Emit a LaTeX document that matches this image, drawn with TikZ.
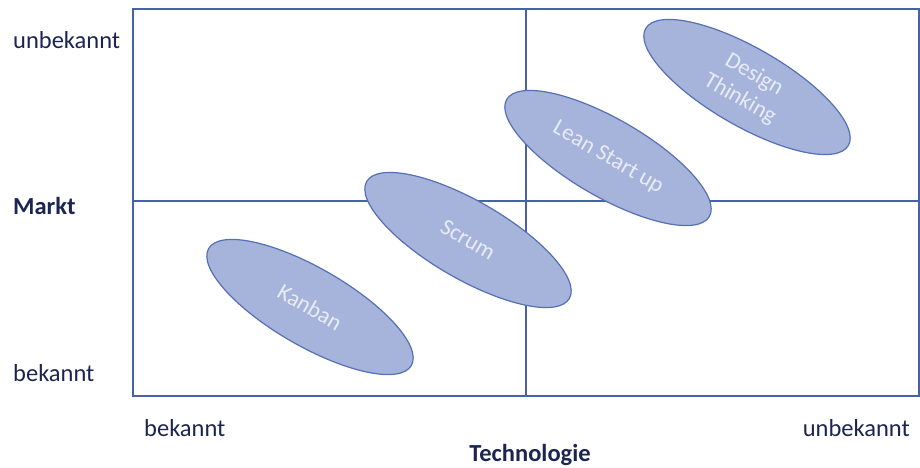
\documentclass[tikz,border=0pt]{standalone}
\usepackage{fontspec}
\setmainfont{Carlito}
\usetikzlibrary{shapes.geometric}
\definecolor{navy}{HTML}{1B2552}
\definecolor{gridblue}{HTML}{4762A6}
\definecolor{ellfill}{HTML}{A6B3DA}
\definecolor{elledge}{HTML}{5570B5}
\definecolor{elltext}{HTML}{E8ECF6}
\tikzset{
  axislabel/.style={text=navy, font=\fontsize{24.5}{28}\selectfont, inner sep=0pt},
  axistitle/.style={axislabel, font=\fontsize{24.5}{28}\selectfont\bfseries},
  method/.style={ellipse, draw=elledge, line width=1.2pt, fill=ellfill,
    minimum width=234pt, minimum height=78pt, inner sep=0pt, rotate=-30,
    text=elltext, font=\fontsize{23}{28}\selectfont, align=center},
  gridline/.style={draw=gridblue, line width=1.6pt}
}
\begin{document}
\begin{tikzpicture}[x=1pt,y=-1pt]
\useasboundingbox (0,0) rectangle (920,468);
\coordinate (tl) at (133,9);
\coordinate (br) at (919,396);
\coordinate (mt) at (526,9);
\coordinate (mb) at (526,396);
\coordinate (ml) at (133,201);
\coordinate (mr) at (919,201);
\draw[gridline] (tl) rectangle (br);
\draw[gridline] (mt) -- (mb);
\draw[gridline] (ml) -- (mr);
\node[method] (kanban) at (310,307) {Kanban};
\node[method] (scrum) at (468,240) {Scrum};
\node[method] (lean) at (608,158) {Lean Start up};
\node[method] (design) at (747,87) {Design\\Thinking};
\node[axislabel, anchor=west] (yhigh) at (13,40) {unbekannt};
\node[axistitle, anchor=west] (ytitle) at (13,206) {Markt};
\node[axislabel, anchor=west] (ylow) at (13,373) {bekannt};
\node[axislabel, anchor=west] (xlow) at (144,428) {bekannt};
\node[axistitle] (xtitle) at (530,455) {Technologie};
\node[axislabel, anchor=east] (xhigh) at (910,428) {unbekannt};
\end{tikzpicture}
\end{document}
